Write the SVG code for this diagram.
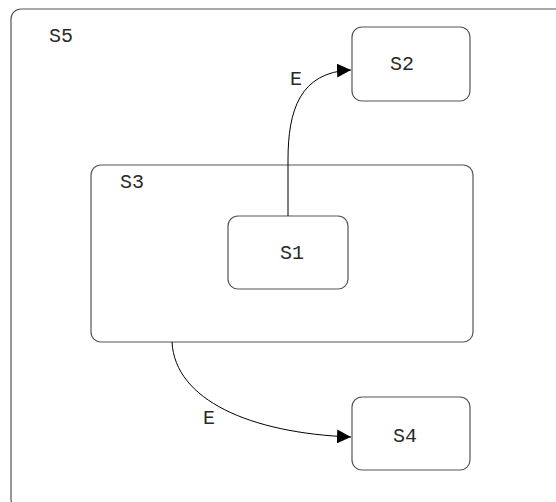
<svg xmlns="http://www.w3.org/2000/svg" width="556" height="502" viewBox="0 0 556 502">
<style>
.st{fill:#fff;stroke:#555;stroke-width:1.2}
.lbl{font-family:"Liberation Mono","Courier New",monospace;font-size:20px;fill:#2a2a2a}
.edge{fill:none;stroke:#000;stroke-width:1}
</style>
<defs>
<marker id="ah" markerWidth="14" markerHeight="14" refX="14" refY="7" orient="auto" markerUnits="userSpaceOnUse">
<path d="M0,0 L14,7 L0,14 Z" fill="#000"/>
</marker>
</defs>
<rect width="556" height="502" fill="#fff"/>
<g id="S5"><rect class="st" x="11" y="9" width="570" height="500" rx="10"/><text class="lbl" x="49" y="42">S5</text></g>
<g id="S2"><rect class="st" x="352" y="27" width="118" height="74" rx="10"/><text class="lbl" x="390" y="70">S2</text></g>
<g id="S3"><rect class="st" x="91" y="165" width="382" height="177" rx="10"/><text class="lbl" x="120" y="188">S3</text></g>
<g id="S1"><rect class="st" x="228" y="216" width="120" height="73" rx="10"/><text class="lbl" x="280" y="259">S1</text></g>
<g id="S4"><rect class="st" x="352" y="397" width="118" height="73" rx="10"/><text class="lbl" x="393" y="442">S4</text></g>
<g id="connectors">
<path class="edge" d="M288,216 L288,160 C288,110 300,72 351,70" marker-end="url(#ah)"/>
<text class="lbl" x="290" y="85">E</text>
<path class="edge" d="M172,342 C175,400 250,433 351,437" marker-end="url(#ah)"/>
<text class="lbl" x="203" y="424">E</text>
</g>
</svg>
